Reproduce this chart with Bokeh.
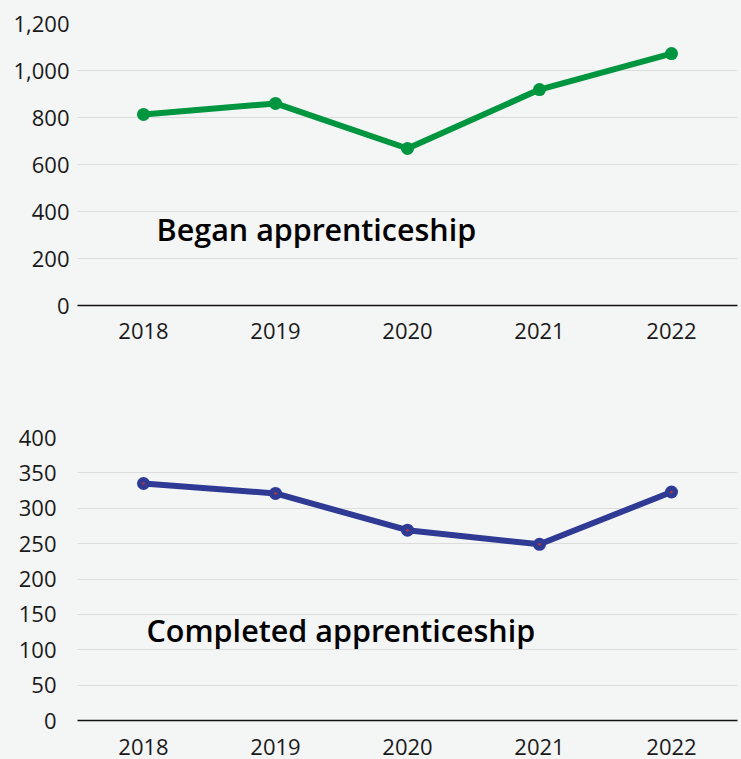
from bokeh.plotting import figure
from bokeh.layouts import column
from bokeh.models import FixedTicker, NumeralTickFormatter, Label, ColumnDataSource
from bokeh.embed import file_html
from bokeh.resources import INLINE

years = ["2018", "2019", "2020", "2021", "2022"]
began = [813, 860, 668, 919, 1072]
completed = [335, 321, 269, 249, 323]
began_ticks = [0, 200, 400, 600, 800, 1000, 1200]
completed_ticks = [0, 50, 100, 150, 200, 250, 300, 350, 400]

BG = "#f4f5f5"
FONT = "Open Sans"


def make_fig(values, ticks, ymax, color, label, label_x, label_y, height, top, bottom,
             left, right, standoff, tick_out, xstandoff, dot=None):
    src = ColumnDataSource(dict(x=years, y=values))
    p = figure(x_range=years, y_range=(0, ymax), width=741, height=height,
               output_backend="svg", toolbar_location=None,
               min_border_top=top, min_border_left=left, min_border_right=right,
               min_border_bottom=bottom)
    p.background_fill_color = BG
    p.border_fill_color = BG
    p.outline_line_color = None
    p.line("x", "y", source=src, line_color=color, line_width=6)
    p.scatter("x", "y", source=src, size=13, fill_color=color, line_color=None)
    if dot:
        p.scatter("x", "y", source=src, size=2.5, fill_color=dot, line_color=None)
    p.yaxis.ticker = FixedTicker(ticks=ticks)
    p.yaxis.formatter = NumeralTickFormatter(format="0,0")
    p.yaxis.axis_line_color = None
    p.yaxis.major_tick_line_color = None
    p.yaxis.minor_tick_line_color = None
    p.yaxis.major_tick_out = tick_out
    p.yaxis.major_label_standoff = standoff
    p.xaxis.axis_line_color = "#111111"
    p.xaxis.axis_line_width = 1.5
    p.xaxis.major_tick_line_color = None
    p.xaxis.major_label_standoff = xstandoff
    for ax in (p.xaxis, p.yaxis):
        ax.major_label_text_font = FONT
        ax.major_label_text_font_size = "22px"
        ax.major_label_text_color = "#1a1a1a"
    p.xgrid.grid_line_color = None
    p.ygrid.grid_line_color = "#dcdcdc"
    p.ygrid.grid_line_width = 1.2
    p.ygrid.ticker = FixedTicker(ticks=ticks)
    p.add_layout(Label(x=label_x, y=label_y, x_units="screen", y_units="data",
                       text=label, text_font="Open Sans SemiBold", text_font_size="30.5px",
                       text_font_style="normal", text_color="#000000",
                       text_baseline="alphabetic"))
    return p


p1 = make_fig(began, began_ticks, 1200, "#00963f", "Began apprenticeship",
              79, 324, 360, 23, 55, 77, 4, 8, 0, 11)
p2 = make_fig(completed, completed_ticks, 400, "#2e3a94", "Completed apprenticeship",
              69, 128, 399, 77, 39, 72, 0, 15, 6, 12, dot="#c0392b")

layout = column(p1, p2, spacing=0, styles={"background-color": BG})
open("out.html", "w").write(file_html(layout, INLINE))
